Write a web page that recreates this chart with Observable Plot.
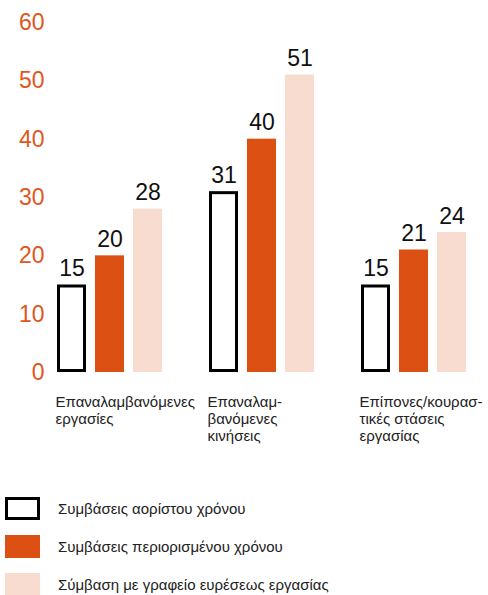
<!DOCTYPE html>
<html><head><meta charset="utf-8">
<script src="https://cdn.jsdelivr.net/npm/d3@7"></script>
<script src="https://cdn.jsdelivr.net/npm/@observablehq/plot@0.6"></script>
<style>
body{margin:0;background:#fff;font-family:"Liberation Sans",Arial,sans-serif;overflow:hidden;}
#chart svg{display:block}
#legend{position:relative;height:125px;}
.row{position:absolute;left:0;display:flex;align-items:center;height:23px;font-size:15px;color:#222;}
.sw{width:35px;height:23px;box-sizing:border-box;margin-left:5px;margin-right:18px;}
</style></head><body><div id="chart"></div><div id="legend"></div>
<script>
const categories = ["Επαναλαμβανόμενες εργασίες", "Επαναλαμβανόμενες κινήσεις", "Επίπονες/κουραστικές στάσεις εργασίας"];
const categoryLabels = ["Επαναλαμβανόμενες\nεργασίες", "Επαναλαμ-\nβανόμενες\nκινήσεις", "Επίπονες/κουρασ-\nτικές στάσεις\nεργασίας"];
const series = ["Συμβάσεις αορίστου χρόνου", "Συμβάσεις περιορισμένου χρόνου", "Σύμβαση με γραφείο ευρέσεως εργασίας"];
const indefinite = [15, 31, 15];
const fixedTerm = [20, 40, 21];
const agency = [28, 51, 24];
const yTicks = [0, 10, 20, 30, 40, 50, 60];
const colors = ["#ffffff", "#dc5014", "#f8dcd0"];
const orange = "#e0561c";

const valuesBySeries = [indefinite, fixedTerm, agency];
const data = [];
categories.forEach((c, i) => series.forEach((s, j) => data.push({category: c, series: s, value: valuesBySeries[j][i]})));
const catRows = categories.map((c, i) => ({category: c, label: categoryLabels[i]}));

const chart = Plot.plot({
  width: 488, height: 470,
  marginLeft: 57, marginRight: 22, marginTop: 22, marginBottom: 98,
  style: {fontFamily: "Liberation Sans, Arial, sans-serif", background: "#fff"},
  fx: {domain: categories, axis: null, paddingInner: 0.31, paddingOuter: 0},
  x: {domain: series, axis: null, paddingInner: 0.237, paddingOuter: 0},
  y: {domain: [0, 60], axis: null},
  color: {domain: series, range: colors},
  marks: [
    Plot.axisY(yTicks, {tickSize: 0, tickPadding: 13, fontSize: 23, color: orange, label: null}),
    Plot.barY(data.filter(d => d.series !== series[0]), {fx: "category", x: "series", y: "value", fill: "series"}),
    Plot.barY(data.filter(d => d.series === series[0]), {fx: "category", x: "series", y: "value", fill: "white", stroke: "black", strokeWidth: 3, inset: 1.5}),
    Plot.text(data, {fx: "category", x: "series", y: "value", text: d => String(d.value), dy: -9, lineAnchor: "bottom", fontSize: 23, fill: "#111"}),
    Plot.text(catRows, {fx: "category", x: () => series[0], y: () => 0, text: "label", textAnchor: "start", dx: -16.5, dy: 22, lineAnchor: "top", fontSize: 15, lineHeight: 17/15, fill: "#222"})
  ]
});
document.getElementById("chart").appendChild(chart);

const legend = document.getElementById("legend");
const tops = [27, 65, 103];
series.forEach((s, j) => {
  const row = document.createElement("div");
  row.className = "row";
  row.style.top = tops[j] + "px";
  const sw = document.createElement("div");
  sw.className = "sw";
  sw.style.background = colors[j];
  if (j === 0) sw.style.border = "3.5px solid #000";
  const t = document.createElement("span");
  t.textContent = s;
  row.appendChild(sw); row.appendChild(t);
  legend.appendChild(row);
});
</script></body></html>
